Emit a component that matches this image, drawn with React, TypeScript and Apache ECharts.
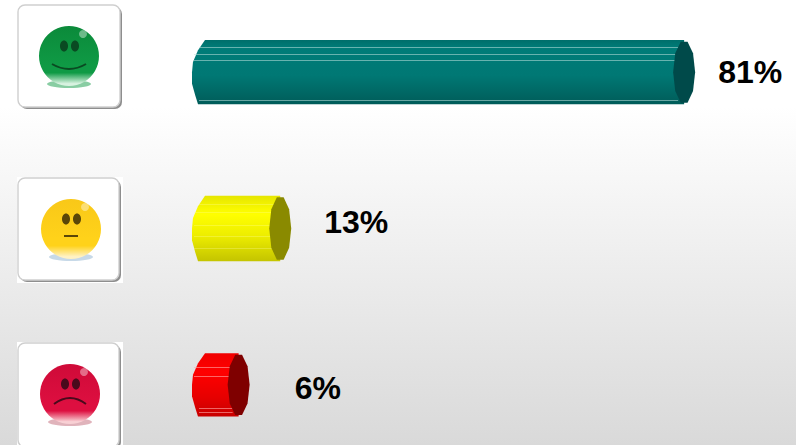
import React, { useEffect, useRef } from "react";
import * as echarts from "echarts";

const categories = ["Positive", "Neutral", "Negative"];
const values = [81, 13, 6];
const labels = ["81%", "13%", "6%"];

const bodyStops = [
  [[0, "#006f6b"], [0.12, "#007c78"], [0.55, "#007874"], [1, "#005c59"]],
  [[0, "#e6e600"], [0.28, "#ffff00"], [0.6, "#eeee00"], [1, "#c4c400"]],
  [[0, "#f00000"], [0.3, "#ff0000"], [0.7, "#e60000"], [1, "#c80000"]],
];
const capColors = ["#004a4a", "#8a8a00", "#7f0000"];
const stripeColor = ["rgba(190,225,222,0.55)", "rgba(255,255,160,0.3)", "rgba(255,170,170,0.6)"];
const stripes = [
  [0.1, 0.21, 0.31, 0.93],
  [0.12, 0.25, 0.45, 0.62, 0.8],
  [0.22, 0.36, 0.87, 0.93],
];
const labelGapX = [23, 33, 45];
const labelShiftY = [0, -7, 3];
const barHeightShare = [0.41, 0.42, 0.405];

const faces = [
  { x: 18, y: 5, w: 102, h: 102, cx: 69, cy: 56, tones: ["#0f9a45", "#0b8a3a", "#d8f2e0"], eye: "#0a4a22", mood: 1 },
  { x: 18, y: 178, w: 101, h: 102, cx: 71, cy: 229, tones: ["#ffd21a", "#f9c818", "#fff2c4"], eye: "#5a4608", mood: 0 },
  { x: 18, y: 343, w: 101, h: 104, cx: 70, cy: 394, tones: ["#dd0f40", "#cf0a38", "#f8d0d4"], eye: "#4a0a1c", mood: -1 },
];

function faceGraphics() {
  const out: any[] = [];
  faces.forEach((f) => {
    const { x, y, w, h, cx, cy, tones, eye, mood } = f;
    if (mood !== 1) {
      out.push({ type: "rect", shape: { x: x - 1, y: y - 1, width: w + 5, height: h + 4 }, style: { fill: "#fff" } });
    }
    out.push({ type: "rect", shape: { x: x + 2, y: y + 2, width: w, height: h, r: 7 }, style: { fill: "#8e8e8e" } });
    out.push({
      type: "rect",
      shape: { x, y, width: w, height: h, r: 7 },
      style: { fill: "#fff", stroke: "#cfcfcf", lineWidth: 1.4 },
    });
    out.push({
      type: "ellipse",
      shape: { cx, cy: cy + 28, rx: 22, ry: 4 },
      style: { fill: mood === 0 ? "#b9d0e2" : mood === 1 ? "#6cc08c" : "#d8a0aa", opacity: 0.8 },
    });
    out.push({
      type: "circle",
      shape: { cx, cy, r: 30 },
      style: {
        fill: new echarts.graphic.LinearGradient(0, 0, 0, 1, [
          { offset: 0, color: tones[1] },
          { offset: 0.66, color: tones[0] },
          { offset: 0.78, color: tones[0] },
          { offset: 0.96, color: tones[2] },
          { offset: 1, color: tones[2] },
        ]),
      },
    });
    out.push({
      type: "circle",
      shape: { cx: cx + 14, cy: cy - 22, r: 4 },
      style: { fill: "#ffffff", opacity: 0.4 },
    });
    out.push({ type: "ellipse", shape: { cx: cx - 5, cy: cy - 10, rx: 4, ry: 5.5 }, style: { fill: eye } });
    out.push({ type: "ellipse", shape: { cx: cx + 6, cy: cy - 10, rx: 4, ry: 5.5 }, style: { fill: eye } });
    const mouthBase = { stroke: eye, lineWidth: 2, fill: "none" };
    if (mood === 1) {
      out.push({
        type: "bezierCurve",
        shape: { x1: cx - 17, y1: cy + 8, x2: cx + 17, y2: cy + 8, cpx1: cx, cpy1: cy + 18 },
        style: mouthBase,
      });
    } else if (mood === 0) {
      out.push({ type: "line", shape: { x1: cx - 7, y1: cy + 7, x2: cx + 7, y2: cy + 7 }, style: mouthBase });
    } else {
      out.push({
        type: "bezierCurve",
        shape: { x1: cx - 16, y1: cy + 10, x2: cx + 16, y2: cy + 10, cpx1: cx, cpy1: cy - 2 },
        style: mouthBase,
      });
    }
  });
  return out;
}

const CAP_RX = 11;

function renderBar(params: any, api: any) {
  const i = params.dataIndex;
  const [endX, cy] = api.coord([api.value(0), i]);
  const [startX] = api.coord([0, i]);
  const h = api.size([0, 1])[1] * barHeightShare[i];
  const top = cy - h / 2;
  const bot = cy + h / 2;
  const capCx = endX + CAP_RX;
  const gradient = new echarts.graphic.LinearGradient(
    0, 0, 0, 1,
    bodyStops[i].map((s: any) => ({ offset: s[0], color: s[1] }))
  );
  const body = [
    [startX + 13, top],
    [startX + 6, top + h * 0.16],
    [startX + 1, top + h * 0.34],
    [startX, top + h * 0.5],
    [startX, top + h * 0.68],
    [startX + 3, top + h * 0.85],
    [startX + 6, bot],
    [capCx, bot],
    [capCx, top],
  ];
  const cap: number[][] = [];
  const n = 10;
  for (let k = 0; k < n; k++) {
    const a = (k / n) * Math.PI * 2;
    cap.push([capCx + CAP_RX * Math.cos(a), cy + (h / 2) * Math.sin(a)]);
  }
  const children: any[] = [
    { type: "polygon", shape: { points: body }, style: { fill: gradient } },
  ];
  stripes[i].forEach((f) => {
    const y = Math.round(top + h * f) + 0.5;
    const inset = f < 0.2 || f > 0.85 ? 7 : 2;
    children.push({
      type: "line",
      shape: { x1: startX + inset, y1: y, x2: capCx - 6, y2: y },
      style: { stroke: stripeColor[i], lineWidth: 1 },
    });
  });
  children.push({ type: "polygon", shape: { points: cap }, style: { fill: capColors[i] } });
  children.push({
    type: "text",
    style: {
      text: labels[i],
      x: capCx + CAP_RX + labelGapX[i],
      y: cy + labelShiftY[i],
      verticalAlign: "middle",
      align: "left",
      fill: "#000",
      font: 'bold 32px "Liberation Sans", Arial, sans-serif',
    },
  });
  return { type: "group", children };
}

export default function App() {
  const ref = useRef<HTMLDivElement>(null);
  useEffect(() => {
    document.body.style.margin = "0";
    const chart = echarts.init(ref.current!, undefined, { renderer: "svg" });
    chart.setOption({
      animation: false,
      backgroundColor: new echarts.graphic.LinearGradient(0, 0, 0, 1, [
        { offset: 0, color: "#ffffff" },
        { offset: 0.24, color: "#ffffff" },
        { offset: 1, color: "#d9d9d9" },
      ]),
      grid: { left: 192, width: 594, top: -6, height: 469, outerBoundsMode: "none" },
      xAxis: { type: "value", min: 0, max: 100, show: false },
      yAxis: { type: "category", data: categories, inverse: true, show: false },
      graphic: { elements: faceGraphics() },
      series: [
        {
          type: "custom",
          renderItem: renderBar,
          encode: { x: 0, y: 1 },
          data: values.map((v, i) => [v, i]),
          clip: false,
        },
      ],
    });
    return () => chart.dispose();
  }, []);
  return <div ref={ref} style={{ width: 796, height: 445, overflow: "hidden" }} />;
}
